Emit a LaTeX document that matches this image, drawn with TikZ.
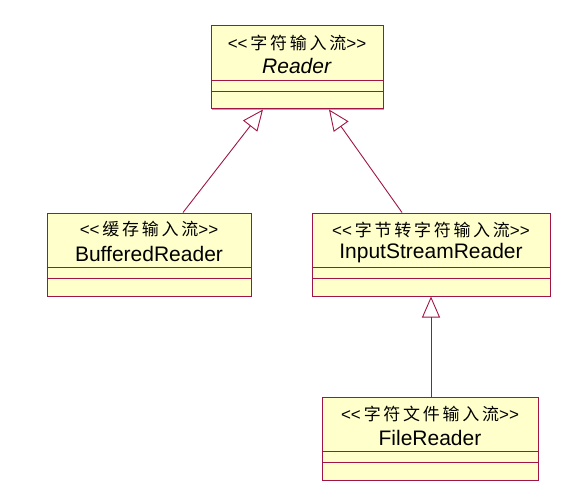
\documentclass[tikz,border=0pt]{standalone}
\usepackage{fontspec}
\setmainfont{Liberation Sans}
\newfontfamily\cjk[LetterSpace=16]{Noto Sans CJK SC}
\usetikzlibrary{arrows.meta,shadows}
\definecolor{umlred}{RGB}{160,20,70}
\definecolor{umlfill}{RGB}{255,255,204}
\begin{document}
\begin{tikzpicture}[x=1pt,y=-1pt,
			classbox/.style={draw=umlred, fill=umlfill, line width=1pt, minimum height=83pt,
				drop shadow={shadow xshift=1.2pt, shadow yshift=-1.2pt, fill=umlred!45, opacity=1}},
			stereo/.style={font=\fontsize{17}{17}\selectfont, inner sep=0pt},
			cname/.style={font=\fontsize{21}{21}\selectfont, inner sep=0pt},
			inherit/.style={draw=umlred, line width=0.9pt, -{Triangle[open, length=21pt, width=18pt]}}]
			
			\useasboundingbox (0,0) rectangle (573,500);
			
			% class boxes
			\foreach \n/\x/\y/\w/\s/\c in {
				reader/297/67.5/172/{字符输入流}/{\textit{Reader}},
				buffered/149/254.5/204/{缓存输入流}/{BufferedReader},
				isreader/431/254.5/238/{字节转字符输入流}/{InputStreamReader},
				filereader/430/438.5/216/{字符文件输入流}/{FileReader}}
			{
				\node[classbox, minimum width=\w pt] (\n) at (\x,\y) {};
				\node[stereo] (\n-s) at ([yshift=-17pt]\n.north) {<{}<\,{\cjk \s}>{}>};
				\node[cname] (\n-c) at ([yshift=-41pt]\n.north) {\c};
				\draw[umlred, line width=0.9pt] ([yshift=-55pt]\n.north west) -- ([yshift=-55pt]\n.north east);
				\draw[umlred, line width=0.9pt] ([yshift=-66pt]\n.north west) -- ([yshift=-66pt]\n.north east);
			}
			
			% generalisation
			\draw[inherit] ([xshift=34pt]buffered.north) -- ([xshift=-34pt]reader.south);
			\draw[inherit] ([xshift=-29pt]isreader.north) -- ([xshift=32pt]reader.south);
			\draw[inherit] ([xshift=1pt]filereader.north) -- (isreader.south);
			
\end{tikzpicture}
\end{document}
